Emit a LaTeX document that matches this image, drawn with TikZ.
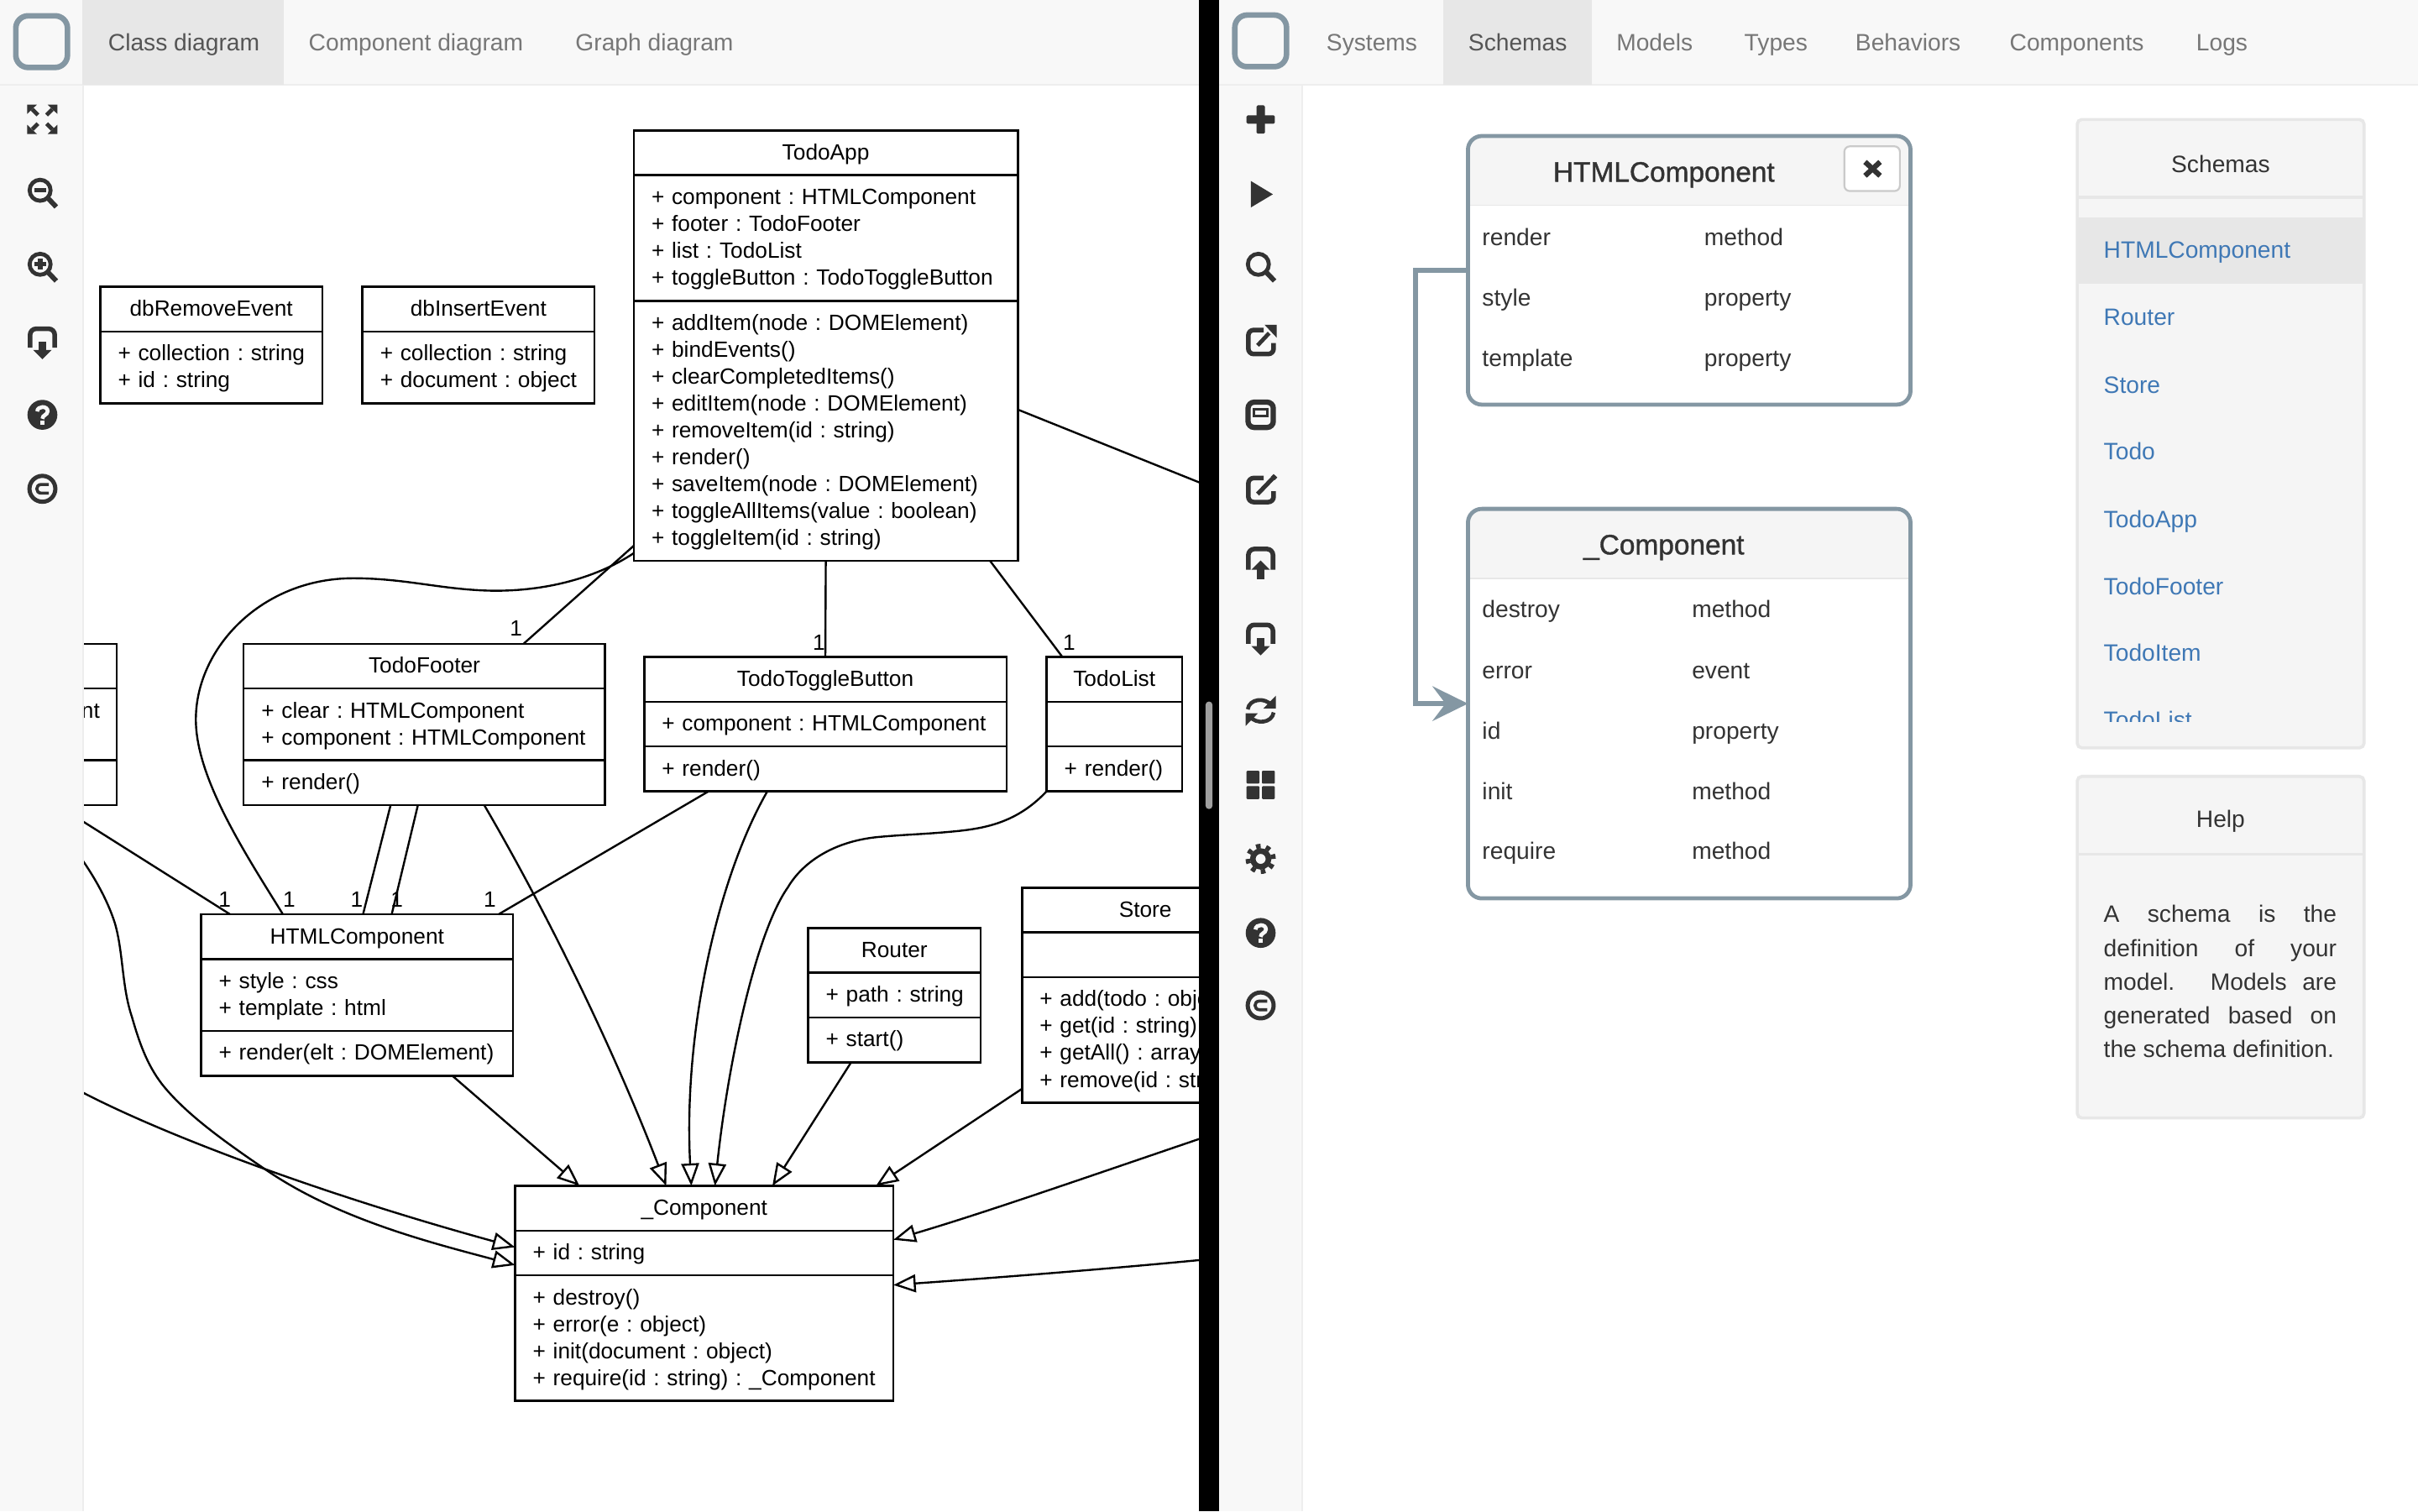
\documentclass[tikz,border=0pt]{standalone}
\usepackage{fontspec}
\setmainfont{Liberation Sans}
\newfontfamily\mediumfont[FakeBold=1.2]{Liberation Sans}
\usetikzlibrary{arrows.meta, positioning, shapes.multipart}

\definecolor{navbg}{HTML}{F8F8F8}
\definecolor{navactive}{HTML}{E7E7E7}
\definecolor{navline}{HTML}{EEEEEE}
\definecolor{tabtext}{HTML}{777777}
\definecolor{tabactive}{HTML}{555555}
\definecolor{iconink}{HTML}{333333}
\definecolor{slate}{HTML}{8497A3}
\definecolor{panelbg}{HTML}{F5F5F5}
\definecolor{linkblue}{HTML}{3F78B5}

\tikzset{
    umlclass/.style={draw=black, line width=1.4pt, rectangle split, rectangle split parts=3,
        anchor=north west, outer sep=0pt, inner xsep=11pt, inner ysep=5.1pt, align=left,
        font=\fontsize{14.3}{17.45}\selectfont\frenchspacing},
    boxw/.style={text width=#1pt-22pt},
    mult/.style={inner sep=0pt, font=\fontsize{14.3}{16}\selectfont},
    assoc/.style={line width=1.3pt},
    inherit/.style={line width=1.3pt, -{Triangle[open, length=14.5pt, width=11.5pt]}},
    tablabel/.style={anchor=base west, inner sep=0pt, text=tabtext, font=\fontsize{15.35}{18}\selectfont},
    rowlabel/.style={anchor=base west, inner sep=0pt, text=iconink, font=\fontsize{15.35}{18}\selectfont\frenchspacing},
    itemlabel/.style={anchor=base west, inner sep=0pt, text=linkblue, font=\fontsize{15.35}{18}\selectfont},
    cardtitle/.style={anchor=base, inner sep=0pt, text=iconink, font=\mediumfont\fontsize{18.2}{20}\selectfont},
    schemacard/.style={draw=slate, line width=2.6pt, rounded corners=9pt, anchor=north west,
        minimum width=287pt, outer sep=0pt},
    panelbox/.style={draw=navactive, fill=panelbg, line width=2pt, rounded corners=3pt,
        anchor=north west, minimum width=186pt, outer sep=0pt},
    logo/.style={draw=slate, fill=navbg, line width=3.6pt, rounded corners=8pt,
        minimum width=33.5pt, minimum height=33.5pt, inner sep=0pt},
    schemalink/.style={draw=slate, line width=3pt, -{Stealth[length=23pt, width=22.5pt, inset=8.5pt]}},
    ink/.style={fill=iconink, draw=none},
    stroke/.style={draw=iconink, line width=#1pt}
}

\newcommand{\umlstrut}{\vrule width 0pt height 13.2pt depth 4.25pt\relax}
\newcommand{\umlrows}{\leftskip 0.5pt\rightskip -6pt plus 1fil\relax}
\newcommand{\umltitle}[1]{\makebox[\hsize]{\umlstrut #1}}
\newcommand{\umlparts}[3]{\umltitle{#1}\nodepart{two}\umlrows\umlstrut #2\umlstrut\par\nodepart{three}\umlrows\umlstrut #3\umlstrut\par}

\newcommand{\iconresize}[1]{\begin{scope}[shift={(#1)}]
    \fill[ink] (-9.8,-9.5) -- (-3.5,-9.5) -- (-9.8,-3.5) -- cycle;
    \fill[ink] (9.8,-9.5) -- (3.5,-9.5) -- (9.8,-3.5) -- cycle;
    \fill[ink] (-9.8,9.5) -- (-3.5,9.5) -- (-9.8,3.5) -- cycle;
    \fill[ink] (9.8,9.5) -- (3.5,9.5) -- (9.8,3.5) -- cycle;
    \draw[stroke=2.6] (-6.5,-6.5) -- (-2.8,-2.8) (6.5,-6.5) -- (2.8,-2.8) (-6.5,6.5) -- (-2.8,2.8) (6.5,6.5) -- (2.8,2.8);
\end{scope}}
\newcommand{\iconlens}[1]{\begin{scope}[shift={(#1)}]
    \draw[stroke=2.6] (-1.5,-1.6) circle[radius=6.8pt];
    \draw[stroke=3.2] (3.5,3.4) -- (9,9.2);
\end{scope}}
\newcommand{\iconminus}[1]{\iconlens{#1}\fill[ink] ([shift={(-5.2,-3)}]#1) rectangle ([shift={(2.2,-0.2)}]#1);}
\newcommand{\iconzoomin}[1]{\iconminus{#1}\fill[ink] ([shift={(-3,-5.2)}]#1) rectangle ([shift={(0,2)}]#1);}
\newcommand{\iconsave}[1]{\begin{scope}[shift={(#1)}]
    \draw[stroke=3, rounded corners=4pt] (-8,4.5) -- (-8,-7.8) -- (8,-7.8) -- (8,4.5);
    \fill[ink] (-2.6,0.5) rectangle (2.6,6.5);
    \fill[ink] (-6,6) -- (6,6) -- (0,12) -- cycle;
\end{scope}}
\newcommand{\iconupload}[1]{\begin{scope}[shift={(#1)}]
    \draw[stroke=3, rounded corners=4pt] (-8,4.5) -- (-8,-9) -- (8,-9) -- (8,4.5);
    \fill[ink] (-2.6,4) rectangle (2.6,10.5);
    \fill[ink] (-6,4.5) -- (6,4.5) -- (0,-1.5) -- cycle;
\end{scope}}
\newcommand{\iconquestion}[1]{\begin{scope}[shift={(#1)}]
    \fill[ink] (0,0) circle[radius=9.7pt];
    \draw[draw=navbg, line width=2.5pt] (-3.4,-2.2) .. controls (-3.2,-6) and (3.6,-6) .. (3.4,-2.2) .. controls (3.2,0.3) and (0,0) .. (0,2.6);
    \fill[navbg] (-1.5,3.6) rectangle (1.5,6.4);
\end{scope}}
\newcommand{\iconcopy}[1]{\begin{scope}[shift={(#1)}]
    \draw[stroke=2.7] (0,0) circle[radius=8.4pt];
    \draw[stroke=2] (4.2,-2.8) -- (-0.8,-2.8) .. controls (-4.6,-2.8) and (-4.6,2.8) .. (-0.8,2.8) -- (4.2,2.8);
\end{scope}}
\newcommand{\iconplus}[1]{\begin{scope}[shift={(#1)}]
    \fill[ink, rounded corners=0.8pt] (-9.2,-2.7) rectangle (9.2,2.7);
    \fill[ink, rounded corners=0.8pt] (-2.7,-9.2) rectangle (2.7,9.2);
\end{scope}}
\newcommand{\iconshare}[1]{\begin{scope}[shift={(#1)}]
    \draw[stroke=3, rounded corners=3.5pt] (2,-7) -- (-8,-7) -- (-8,8.6) -- (8.4,8.6) -- (8.4,1.5);
    \draw[stroke=2.6] (-2,3) -- (5.5,-5);
    \fill[ink] (2.5,-10.4) -- (10.4,-10.4) -- (10.4,-2) -- cycle;
\end{scope}}
\newcommand{\iconexpand}[1]{\begin{scope}[shift={(#1)}]
    \draw[stroke=3.4, rounded corners=4pt] (-8.2,-8.2) rectangle (8.2,8.2);
    \draw[stroke=1.6] (-4.4,-3.8) rectangle (4.4,0.8);
\end{scope}}
\newcommand{\iconedit}[1]{\begin{scope}[shift={(#1)}]
    \draw[stroke=3, rounded corners=3.5pt] (2,-7) -- (-8,-7) -- (-8,8.6) -- (8.4,8.6) -- (8.4,1.5);
    \draw[stroke=2.8] (-2,3.4) -- (8,-7);
    \fill[ink] (8.4,-9.6) -- (10.8,-7.4) -- (9,-5.6) -- (6.6,-7.8) -- cycle;
\end{scope}}
\newcommand{\iconrefresh}[1]{\begin{scope}[shift={(#1)}]
    \draw[stroke=2.5] (-8.4,-1) .. controls (-7.4,-8) and (3,-9) .. (7,-3.6);
    \fill[ink] (9.8,-9.8) -- (9.8,-1.6) -- (1.8,-1.6) -- cycle;
    \draw[stroke=2.5] (8.4,1) .. controls (7.4,8) and (-3,9) .. (-7,3.6);
    \fill[ink] (-9.8,9.8) -- (-9.8,1.6) -- (-1.8,1.6) -- cycle;
\end{scope}}
\newcommand{\icongrid}[1]{\begin{scope}[shift={(#1)}]
    \fill[ink, rounded corners=0.6pt] (-9.2,-9.2) rectangle (-0.8,-0.8);
    \fill[ink, rounded corners=0.6pt] (0.8,-9.2) rectangle (9.2,-0.8);
    \fill[ink, rounded corners=0.6pt] (-9.2,0.8) rectangle (-0.8,9.2);
    \fill[ink, rounded corners=0.6pt] (0.8,0.8) rectangle (9.2,9.2);
\end{scope}}
\newcommand{\icongear}[1]{\begin{scope}[shift={(#1)}]
    \draw[stroke=3, dash pattern=on 3pt off 3.52pt] (0,0) circle[radius=8.3pt];
    \draw[stroke=3.6] (0,0) circle[radius=5.1pt];
\end{scope}}

\begin{document}
\begin{tikzpicture}[x=1pt, y=-1pt]
    \useasboundingbox (0,0) rectangle (1568,980);

    \node[umlclass, boxw=144, rectangle split parts=2] (dbremove) at (65,186) {\umltitle{dbRemoveEvent}\nodepart{two}\umlrows\umlstrut + collection : string\\+ id : string\umlstrut\par};
    \node[umlclass, boxw=150.5, rectangle split parts=2] (dbinsert) [right=26pt of dbremove.north east, anchor=north west] {\umltitle{dbInsertEvent}\nodepart{two}\umlrows\umlstrut + collection : string\\+ document : object\umlstrut\par};
    \node[umlclass, boxw=249] (todoapp) at (411,84.6) {\umlparts{TodoApp}{+ component : HTMLComponent\\+ footer : TodoFooter\\+ list : TodoList\\+ toggleButton : TodoToggleButton}{+ addItem(node : DOMElement)\\+ bindEvents()\\+ clearCompletedItems()\\+ editItem(node : DOMElement)\\+ removeItem(id : string)\\+ render()\\+ saveItem(node : DOMElement)\\+ toggleAllItems(value : boolean)\\+ toggleItem(id : string)}};
    \node[umlclass, boxw=60.7] (itemstub) at (15,417.5) {\umlparts{}{\raggedleft nt\\ }{}};
    \node[umlclass, boxw=234.4] (footer) at (158,417.5) {\umlparts{TodoFooter}{+ clear : HTMLComponent\\+ component : HTMLComponent}{+ render()}};
    \node[umlclass, boxw=235] (toggle) at (417.7,426) {\umlparts{TodoToggleButton}{+ component : HTMLComponent}{+ render()}};
    \node[umlclass, boxw=87.8] (todolist) at (678.7,426) {\umlparts{TodoList}{}{+ render()}};
    \node[umlclass, boxw=202.3] (html) at (130.4,593) {\umlparts{HTMLComponent}{+ style : css\\+ template : html}{+ render(elt : DOMElement)}};
    \node[umlclass, boxw=112] (router) at (524,601.8) {\umlparts{Router}{+ path : string}{+ start()}};
    \node[umlclass, boxw=160] (store) at (662.7,575.6) {\umlparts{Store}{}{+ add(todo : obje\\+ get(id : string)\\+ getAll() : array\\+ remove(id : stri}};
    \node[umlclass, boxw=245.3] (comp) at (334,769) {\umlparts{\_Component}{+ id : string}{+ destroy()\\+ error(e : object)\\+ init(document : object)\\+ require(id : string) : \_Component}};

    \coordinate (offapp) at (800,321.8);
    \coordinate (offtop) at (800,731);
    \coordinate (offlow) at (800,815);
    \coordinate (offleft) at (40,701);

    \path[assoc]
    ([yshift=9.8pt]todoapp.south west) edge ([xshift=-52.9pt]footer.north east)
    (todoapp.south) edge (toggle.north)
    ([xshift=-18pt]todoapp.south east) edge ([xshift=10.2pt]todolist.north west)
    ([yshift=-181pt]todoapp.north east) edge (offapp)
    ([xshift=95.3pt]footer.south west) edge ([xshift=105pt]html.north west)
    ([xshift=113pt]footer.south west) edge ([xshift=123.6pt]html.north west)
    ([xshift=22pt]itemstub.south west) edge ([xshift=18.9pt]html.north west)
    ([xshift=41.8pt]toggle.south west) edge ([xshift=-9.5pt]html.north east);
    \draw[assoc] ([yshift=5pt]todoapp.south west) .. controls (385,376) and (350,384) .. (316,383)
        .. controls (285,382) and (262,375) .. (229,375)
        .. controls (170,375) and (127,420) .. (127,466.6)
        .. controls (127,505) and (160,555) .. ([xshift=53.1pt]html.north west);

    \path[inherit]
    ([xshift=-39.4pt]html.south east) edge ([xshift=41.8pt]comp.north west)
    ([xshift=27.9pt]router.south west) edge ([xshift=-78.4pt]comp.north east)
    ([yshift=9pt]store.south west) edge ([xshift=-11.3pt]comp.north east);
    \draw[inherit] ([xshift=-78.4pt]footer.south east) .. controls (345,575) and (392,665) .. ([xshift=98pt]comp.north west);
    \draw[inherit] ([xshift=79.9pt]toggle.south west) .. controls (465,570) and (443,670) .. ([xshift=114.3pt]comp.north west);
    \draw[inherit] (todolist.south west) .. controls (660,533) and (640,537) .. (620.4,539)
        .. controls (600,541) and (590,541) .. (571.7,542.6)
        .. controls (540,545) and (520,560) .. (511,575.3)
        .. controls (490,605) and (472,690) .. ([xshift=129.6pt]comp.north west);
    \draw[inherit] (offtop) .. controls (700,765) and (640,786) .. ([yshift=-35pt]comp.north east);
    \draw[inherit] (offlow) .. controls (720,823) and (640,829) .. ([yshift=-64.3pt]comp.north east);
    \draw[inherit] (offleft) .. controls (90,730) and (200,772) .. ([yshift=-39.8pt]comp.north west);
    \draw[inherit] ([xshift=10pt]itemstub.south west) .. controls (50,550) and (67,575) .. (74.6,599)
        .. controls (80,618) and (79,640) .. (85.5,659.3)
        .. controls (90,675) and (95,690) .. (105,703)
        .. controls (120,722) and (145,740) .. (173,759)
        .. controls (220,791) and (280,806) .. ([yshift=-51.4pt]comp.north west);

    \node[mult] (multfooter) at (334.6,407.4) {1};
    \node[mult] (multtoggle) at (531,416.5) {1};
    \node[mult] (multlist) at (693.3,416.5) {1};
    \node[mult] (multstub) at (145.7,583.5) {1};
    \node[mult] (multapp) at (187.5,583.5) {1};
    \node[mult] (multclear) at (231.3,583.5) {1};
    \node[mult] (multcomp) at (257.3,583.5) {1};
    \node[mult] (multbutton) at (317.6,583.5) {1};

    \fill[navline] (0,55) rectangle (54.5,980);
    \fill[navbg] (0,55) rectangle (53.5,980);
    \fill[navline] (0,0) rectangle (777.6,55.5);
    \fill[navbg] (0,0) rectangle (777.6,54.5);
    \fill[navactive] (53.5,0) rectangle (184,55);
    \node[logo] (logoleft) at (27,27) {};
    \node[tablabel, text=tabactive] (tabclass) at (70,33) {Class diagram};
    \node[tablabel] (tabcomponent) at (200,33) {Component diagram};
    \node[tablabel] (tabgraph) at (373,33) {Graph diagram};
    \iconresize{27.4,77.4}
    \iconminus{27.5,125}
    \iconzoomin{27.5,173}
    \iconsave{27.5,221}
    \iconquestion{27.5,269}
    \iconcopy{27.5,317}

    \fill[black] (777.6,0) rectangle (790.5,980);
    \fill[tabtext!70!white, rounded corners=2pt] (781.8,455) rectangle (786.2,524.6);

    \fill[white] (790.5,0) rectangle (1568,980);
    \fill[navline] (790.5,55) rectangle (845,980);
    \fill[navbg] (790.5,55) rectangle (844,980);
    \fill[navline] (790.5,0) rectangle (1568,55.5);
    \fill[navbg] (790.5,0) rectangle (1568,54.5);
    \fill[navactive] (936,0) rectangle (1032,55);
    \node[logo] (logoright) at (817.5,26.5) {};
    \node[tablabel] (tabsystems) at (860,33) {Systems};
    \node[tablabel, text=tabactive] (tabschemas) at (952,33) {Schemas};
    \node[tablabel] (tabmodels) at (1048,33) {Models};
    \node[tablabel] (tabtypes) at (1131,33) {Types};
    \node[tablabel] (tabbehaviors) at (1203,33) {Behaviors};
    \node[tablabel] (tabcomponents) at (1303,33) {Components};
    \node[tablabel] (tablogs) at (1424,33) {Logs};
    \iconplus{817.5,77.5}
    \fill[ink] (811.2,117.4) -- (825.4,126) -- (811.2,134.5) -- cycle;
    \iconlens{817.5,173}
    \iconshare{817.5,221}
    \iconexpand{817.5,269}
    \iconedit{817.5,317}
    \iconupload{817.5,365}
    \iconsave{817.5,413}
    \iconrefresh{817.5,461}
    \icongrid{817.5,509}
    \icongear{817.5,557}
    \iconquestion{817.5,605}
    \iconcopy{817.5,652}

    \fill[panelbg, rounded corners=9pt] (951.9,133.1) -- (951.9,88.2) -- (1238.8,88.2) [sharp corners] -- (1238.8,133.1) -- cycle;
    \fill[panelbg, rounded corners=9pt] (951.9,375) -- (951.9,330) -- (1238.8,330) [sharp corners] -- (1238.8,375) -- cycle;
    \fill[navactive] (951.9,132.6) rectangle (1238.8,133.6);
    \fill[navactive] (951.9,374.5) rectangle (1238.8,375.5);
    \node[schemacard, minimum height=174.2pt] (cardhtml) at (951.9,88.2) {};
    \node[schemacard, minimum height=252.6pt] (cardcomp) [below=67.6pt of cardhtml.south west, anchor=north west] {};
    \draw[schemalink] (cardhtml.west) -- ++(-34,0) |- (cardcomp.west);

    \node[cardtitle] (titlehtml) at (1079,117.8) {HTMLComponent};
    \node[draw=navline!85!black, fill=white, line width=1.2pt, rounded corners=3.5pt, minimum width=36pt, minimum height=29pt, inner sep=0pt] (closebtn) at (1214,109.4) {};
    \draw[stroke=3.4] ([shift={(-4.6,-4.4)}]closebtn.center) -- ([shift={(5.2,4.6)}]closebtn.center);
    \draw[stroke=3.4] ([shift={(5.2,-4.4)}]closebtn.center) -- ([shift={(-4.6,4.6)}]closebtn.center);
    \node[rowlabel] (rowrender) at (961,159) {render};
    \node[rowlabel] (rowstyle) at (961,198.5) {style};
    \node[rowlabel] (rowtemplate) at (961,237.5) {template};
    \node[rowlabel] (kindrender) at (1105,159) {method};
    \node[rowlabel] (kindstyle) at (1105,198.5) {property};
    \node[rowlabel] (kindtemplate) at (1105,237.5) {property};

    \node[cardtitle] (titlecomp) at (1079,359.5) {\_Component};
    \node[rowlabel] (rowdestroy) at (961,400.5) {destroy};
    \node[rowlabel] (rowerror) at (961,440) {error};
    \node[rowlabel] (rowid) at (961,479.5) {id};
    \node[rowlabel] (rowinit) at (961,518.5) {init};
    \node[rowlabel] (rowrequire) at (961,557.5) {require};
    \node[rowlabel] (kinddestroy) at (1097,400.5) {method};
    \node[rowlabel] (kinderror) at (1097,440) {event};
    \node[rowlabel] (kindid) at (1097,479.5) {property};
    \node[rowlabel] (kindinit) at (1097,518.5) {method};
    \node[rowlabel] (kindrequire) at (1097,557.5) {method};

    \node[panelbox, minimum height=407.5pt] (panelschemas) at (1347,77.5) {};
    \node[panelbox, minimum height=221.5pt] (panelhelp) [below=18.5pt of panelschemas.south west, anchor=north west] {};
    \fill[navactive] (1347,127) rectangle (1533,129);
    \fill[navactive] (1347,553) rectangle (1533,555);
    \fill[navactive] (1348,141) rectangle (1532,184);
    \node[rowlabel, anchor=center] (headschemas) at (1440,106.2) {Schemas};
    \node[rowlabel, anchor=center] (headhelp) at (1440,532.5) {Help};
    \node[itemlabel] (itemhtml) at (1364,167.5) {HTMLComponent};
    \node[itemlabel] (itemrouter) at (1364,211) {Router};
    \node[itemlabel] (itemstore) at (1364,255) {Store};
    \node[itemlabel] (itemtodo) at (1364,298) {Todo};
    \node[itemlabel] (itemapp) at (1364,342) {TodoApp};
    \node[itemlabel] (itemfooter) at (1364,385.5) {TodoFooter};
    \node[itemlabel] (itemitem) at (1364,429) {TodoItem};
    \begin{scope}
        \clip (1348,440) rectangle (1532,468);
        \node[itemlabel] (itemlist) at (1364,472.5) {TodoList};
    \end{scope}
    \node[rowlabel, anchor=north west, align=left, font=\fontsize{15.35}{21.95}\selectfont] (helptext) at (1364,582.6) {\strut\makebox[151pt][s]{A schema is the}\\\makebox[151pt][s]{definition of your}\\\makebox[151pt][s]{model. Models are}\\\makebox[151pt][s]{generated based on}\\the schema definition.};
\end{tikzpicture}
\end{document}
